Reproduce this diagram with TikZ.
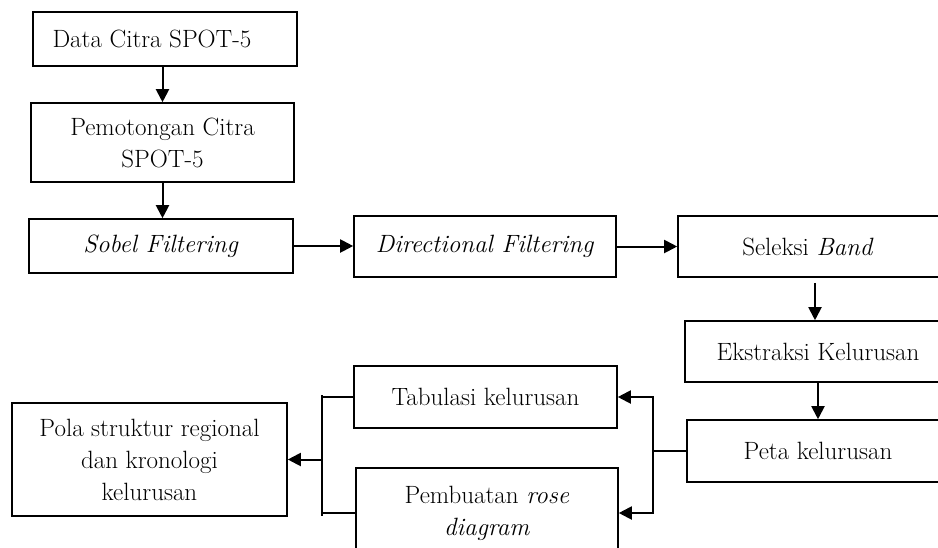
\documentclass[tikz,border=0pt]{standalone}
\usetikzlibrary{arrows.meta}
\begin{document}
\begin{tikzpicture}[x=1pt,y=-1pt,
  box/.style={draw, line width=1.6pt, rectangle, inner sep=0pt, align=center,
    font=\fontsize{25}{32}\selectfont},
  arr/.style={line width=2pt, -{Triangle[length=13pt,width=13pt]}},
  ln/.style={line width=1.6pt},
  thinln/.style={line width=1.2pt}]
\useasboundingbox (0,0) rectangle (938,547);
\clip (0,0) rectangle (938,547);
\node[box, minimum width=264pt, minimum height=54pt] (data) at (165,39) {Data Citra SPOT-5\hspace*{26pt}};
\node[box, minimum width=263pt, minimum height=79pt] (potong) at (162.5,142.5) {Pemotongan Citra\\SPOT-5};
\node[box, minimum width=264pt, minimum height=54pt] (sobel) at (161,246) {\textit{Sobel Filtering}};
\node[box, minimum width=262pt, minimum height=61pt] (dir) at (485,246.5) {\textit{Directional Filtering}};
\node[box, minimum width=274pt, minimum height=61pt] (sel) at (815,246.5) {Seleksi \textit{Band}\hspace*{14pt}};
\node[box, minimum width=266pt, minimum height=61pt] (eks) at (818,351.5) {Ekstraksi Kelurusan};
\node[box, minimum width=262pt, minimum height=62pt] (peta) at (818,451) {Peta kelurusan};
\node[box, minimum width=263pt, minimum height=62pt] (tab) at (485.5,397) {Tabulasi kelurusan};
\node[box, minimum width=262pt, minimum height=90pt] (pemb) at (487,513) {Pembuatan \textit{rose}\\\textit{diagram}};
\node[box, minimum width=275pt, minimum height=113pt] (pola) at (149.5,459.5) {Pola struktur regional\\dan kronologi\\kelurusan};
\coordinate (br) at (653,451);
\coordinate (bl) at (322,459.5);
\draw[arr] (data.south -| potong.north) -- (potong.north);
\draw[arr] (potong.south) -- (potong.south |- sobel.north);
\draw[arr] (sobel.east) -- (sobel.east -| dir.west);
\draw[arr] (dir.east) -- (dir.east -| sel.west);
\draw[arr] ([yshift=-5pt]sel.south) -- (sel.south |- eks.north);
\draw[arr] (eks.south) -- (peta.north);
\draw[thinln] (peta.west) -- (br);
\draw[arr] (br) |- (tab.east);
\draw[arr] (br) |- (pemb.east);
\draw[ln] (tab.west) -- (tab.west -| bl);
\draw[ln] (pemb.west) -- (pemb.west -| bl);
\draw[ln] ([yshift=2pt]tab.west -| bl) -- ([yshift=-3pt]pemb.west -| bl);
\draw[arr] (bl) -- (pola.east);
\end{tikzpicture}
\end{document}
